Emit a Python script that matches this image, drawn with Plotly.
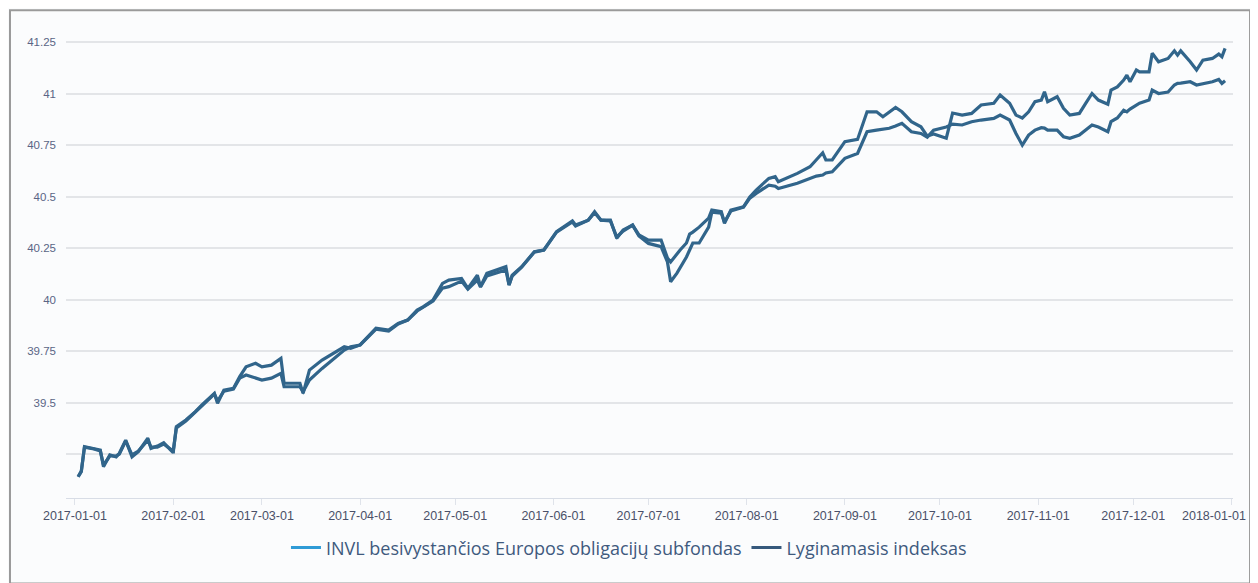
import plotly.graph_objects as go

dates = [
    "2017-01-02", "2017-01-03", "2017-01-04", "2017-01-07", "2017-01-09", "2017-01-10", "2017-01-12",
    "2017-01-14", "2017-01-15", "2017-01-17", "2017-01-19", "2017-01-21", "2017-01-24", "2017-01-25",
    "2017-01-27", "2017-01-29", "2017-02-01", "2017-02-02", "2017-02-05", "2017-02-08", "2017-02-10",
    "2017-02-14", "2017-02-15", "2017-02-17", "2017-02-20", "2017-02-22", "2017-02-24", "2017-02-27",
    "2017-03-01", "2017-03-04", "2017-03-07", "2017-03-08", "2017-03-13", "2017-03-14", "2017-03-16",
    "2017-03-20", "2017-03-27", "2017-03-29", "2017-04-01", "2017-04-06", "2017-04-10", "2017-04-13",
    "2017-04-16", "2017-04-19", "2017-04-21", "2017-04-24", "2017-04-27", "2017-04-29", "2017-05-03",
    "2017-05-05", "2017-05-08", "2017-05-09", "2017-05-11", "2017-05-17", "2017-05-18", "2017-05-19",
    "2017-05-22", "2017-05-26", "2017-05-29", "2017-06-02", "2017-06-07", "2017-06-08", "2017-06-12",
    "2017-06-14", "2017-06-16", "2017-06-19", "2017-06-21", "2017-06-23", "2017-06-26", "2017-06-28",
    "2017-07-01", "2017-07-05", "2017-07-07", "2017-07-08", "2017-07-10", "2017-07-11", "2017-07-13",
    "2017-07-14", "2017-07-15", "2017-07-17", "2017-07-20", "2017-07-21", "2017-07-24", "2017-07-25",
    "2017-07-27", "2017-07-31", "2017-08-02", "2017-08-04", "2017-08-08", "2017-08-10", "2017-08-11",
    "2017-08-17", "2017-08-21", "2017-08-23", "2017-08-25", "2017-08-26", "2017-08-28", "2017-09-01",
    "2017-09-05", "2017-09-08", "2017-09-11", "2017-09-13", "2017-09-15", "2017-09-17", "2017-09-19",
    "2017-09-22", "2017-09-25", "2017-09-27", "2017-09-29", "2017-10-03", "2017-10-05", "2017-10-08",
    "2017-10-11", "2017-10-14", "2017-10-18", "2017-10-20", "2017-10-23", "2017-10-25", "2017-10-27",
    "2017-10-29", "2017-10-31", "2017-11-02", "2017-11-03", "2017-11-04", "2017-11-07", "2017-11-09",
    "2017-11-11", "2017-11-14", "2017-11-16", "2017-11-18", "2017-11-20", "2017-11-23", "2017-11-24",
    "2017-11-26", "2017-11-28", "2017-11-29", "2017-11-30", "2017-12-02", "2017-12-03", "2017-12-06",
    "2017-12-07", "2017-12-09", "2017-12-12", "2017-12-14", "2017-12-15", "2017-12-16", "2017-12-19",
    "2017-12-21", "2017-12-23", "2017-12-26", "2017-12-28", "2017-12-29", "2017-12-30",
]

fund = [
    39.141, 39.166, 39.287, 39.279, 39.271, 39.190, 39.247,
    39.238, 39.255, 39.319, 39.238, 39.263, 39.328, 39.279,
    39.290, 39.306, 39.258, 39.384, 39.417, 39.457, 39.489,
    39.546, 39.498, 39.562, 39.570, 39.627, 39.675, 39.692,
    39.675, 39.683, 39.716, 39.595, 39.595, 39.546, 39.659,
    39.708, 39.772, 39.765, 39.781, 39.862, 39.853, 39.886,
    39.902, 39.950, 39.967, 39.999, 40.080, 40.096, 40.104,
    40.056, 40.120, 40.064, 40.129, 40.161, 40.072, 40.120,
    40.161, 40.234, 40.242, 40.331, 40.383, 40.363, 40.387,
    40.428, 40.387, 40.387, 40.299, 40.339, 40.363, 40.315,
    40.290, 40.290, 40.203, 40.184, 40.227, 40.242, 40.276,
    40.319, 40.329, 40.353, 40.397, 40.436, 40.428, 40.371,
    40.436, 40.452, 40.500, 40.533, 40.590, 40.598, 40.573,
    40.614, 40.646, 40.679, 40.714, 40.679, 40.679, 40.768,
    40.779, 40.913, 40.913, 40.889, 40.913, 40.934, 40.913,
    40.865, 40.840, 40.795, 40.805, 40.785, 40.907, 40.897,
    40.905, 40.946, 40.954, 40.994, 40.954, 40.897, 40.883,
    40.913, 40.962, 40.970, 41.010, 40.962, 40.986, 40.930,
    40.897, 40.905, 40.954, 41.002, 40.970, 40.950, 41.018,
    41.034, 41.067, 41.091, 41.059, 41.116, 41.107, 41.107,
    41.197, 41.156, 41.172, 41.209, 41.188, 41.209, 41.156,
    41.116, 41.164, 41.172, 41.193, 41.180, 41.221,
]

index = [
    39.141, 39.169, 39.285, 39.276, 39.266, 39.198, 39.242,
    39.242, 39.251, 39.315, 39.247, 39.266, 39.319, 39.285,
    39.285, 39.300, 39.266, 39.378, 39.412, 39.455, 39.484,
    39.543, 39.509, 39.557, 39.567, 39.620, 39.635, 39.619,
    39.611, 39.620, 39.643, 39.578, 39.578, 39.554, 39.611,
    39.667, 39.756, 39.772, 39.781, 39.858, 39.849, 39.883,
    39.902, 39.946, 39.965, 39.994, 40.057, 40.064, 40.091,
    40.052, 40.096, 40.062, 40.116, 40.145, 40.072, 40.116,
    40.159, 40.232, 40.242, 40.329, 40.378, 40.358, 40.387,
    40.423, 40.387, 40.383, 40.305, 40.334, 40.363, 40.310,
    40.274, 40.258, 40.184, 40.088, 40.130, 40.154, 40.208,
    40.242, 40.276, 40.276, 40.353, 40.426, 40.421, 40.378,
    40.431, 40.450, 40.494, 40.517, 40.557, 40.552, 40.541,
    40.566, 40.591, 40.601, 40.606, 40.616, 40.622, 40.687,
    40.711, 40.816, 40.824, 40.829, 40.833, 40.844, 40.857,
    40.816, 40.808, 40.790, 40.824, 40.839, 40.853, 40.849,
    40.865, 40.873, 40.881, 40.897, 40.873, 40.808, 40.751,
    40.800, 40.824, 40.836, 40.834, 40.824, 40.824, 40.792,
    40.784, 40.800, 40.824, 40.849, 40.839, 40.816, 40.865,
    40.883, 40.921, 40.913, 40.926, 40.946, 40.955, 40.970,
    41.018, 41.002, 41.009, 41.043, 41.051, 41.052, 41.059,
    41.043, 41.048, 41.059, 41.070, 41.051, 41.064,
]

series_names = ["INVL besivystančios Europos obligacijų subfondas", "Lyginamasis indeksas"]
month_ticks = ["2017-01-01", "2017-02-01", "2017-03-01", "2017-04-01", "2017-05-01", "2017-06-01",
               "2017-07-01", "2017-08-01", "2017-09-01", "2017-10-01", "2017-11-01", "2017-12-01",
               "2018-01-01"]
month_labels = month_ticks[:-1] + [""]
last_label = month_ticks[-1]
y_ticks = [39.25, 39.5, 39.75, 40, 40.25, 40.5, 40.75, 41, 41.25]
y_ticktext = ["", "39.5", "39.75", "40", "40.25", "40.5", "40.75", "41", "41.25"]

line_col = "#31658b"
legend_cols = ["#2f9bd6", "#36597c"]
tick_font = dict(family="Liberation Sans, Arial, sans-serif", size=12.5, color="#4a5068")

fig = go.Figure()
for vals in (fund, index):
    fig.add_trace(go.Scatter(x=dates, y=vals, mode="lines", showlegend=False,
                             line=dict(color=line_col, width=3.2), hoverinfo="skip"))
for name, col in zip(series_names, legend_cols):
    fig.add_trace(go.Scatter(x=[None], y=[None], mode="lines", name=name,
                             line=dict(color=col, width=3)))

fig.update_layout(
    width=1258, height=583,
    margin=dict(l=58, r=33, t=28, b=93),
    paper_bgcolor="#fbfcfd", plot_bgcolor="#fbfcfd",
    font=dict(family="Liberation Sans, Arial, sans-serif"),
    showlegend=True,
    legend=dict(orientation="h", x=0.4824, xanchor="center", y=-0.108, yanchor="middle",
                font=dict(family="Open Sans, sans-serif", size=18, color="#3f5a7e"),
                itemwidth=30, tracegroupgap=0, bgcolor="rgba(0,0,0,0)"),
    xaxis=dict(type="date", range=["2016-12-29 04:00", "2018-01-01 12:00"],
               tickvals=month_ticks, ticktext=month_labels,
               showgrid=False, showline=True, linecolor="#d8dde6", linewidth=1,
               ticks="outside", ticklen=6, tickcolor="#dfe3ea",
               tickfont=tick_font, automargin=False, zeroline=False),
    yaxis=dict(range=[39.038, 41.281], tickvals=y_ticks, ticktext=y_ticktext,
               showgrid=True, gridcolor="#e3e5e8", gridwidth=1.5,
               tickfont=dict(size=11.5, color="#5a6585"), ticklabelstandoff=9,
               zeroline=False, automargin=False),
    annotations=[dict(text=last_label, xref="paper", yref="paper", x=1.0125, y=-0.039,
                      xanchor="right", yanchor="middle", showarrow=False, font=tick_font)],
    shapes=[dict(type="rect", xref="paper", yref="paper",
                 x0=-0.048, x1=1.0146, y0=-0.185, y1=1.056,
                 line=dict(color="#9a9a9a", width=2), fillcolor="rgba(0,0,0,0)", layer="above")],
)

fig.write_html("out.html")
